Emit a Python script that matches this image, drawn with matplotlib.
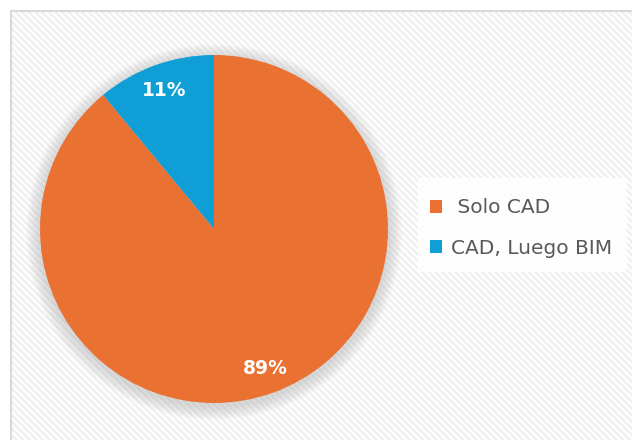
import matplotlib.pyplot as plt
from matplotlib.patches import Rectangle, Circle

labels = [' Solo CAD', 'CAD, Luego BIM']
values = [89, 11]
colors = ['#E97132', '#0F9ED5']
pct_text = ['89%', '11%']

plt.rcParams['hatch.linewidth'] = 1.6
fig = plt.figure(figsize=(6.32, 4.4), dpi=100)
ax = fig.add_axes([0, 0, 1, 1])

# background with fine diagonal stripes
ax.add_patch(Rectangle((0, 0), 632, 440, facecolor='white', edgecolor='none', zorder=0))
ax.add_patch(Rectangle((10.5, -5), 630, 434.5, facecolor='#f0f0f0', edgecolor='white',
                       hatch='\\\\\\\\\\', linewidth=0, zorder=0.5))
ax.add_patch(Rectangle((10.5, -5), 630, 434.5, facecolor='none', edgecolor='#d9d9d9',
                       linewidth=1.5, zorder=0.6))

cx, cy, r = 214, 211, 174

# soft shadow
for k in range(14, 0, -1):
    ax.add_patch(Circle((cx, cy - 3), r + k, facecolor='#808080', edgecolor='none',
                        alpha=0.02, zorder=1))

wedges, _ = ax.pie(values, colors=colors, startangle=90, counterclock=False,
                   center=(cx, cy), radius=r, wedgeprops=dict(linewidth=0))
for w in wedges:
    w.set_zorder(2)

# percentage labels (offsets from centre)
label_pos = [(51, -139), (-50, 139)]
for t, (dx, dy) in zip(pct_text, label_pos):
    ax.text(cx + dx, cy + dy, t, color='white', fontsize=13.5, fontweight='bold',
            ha='center', va='center', zorder=3)

# legend box
ax.add_patch(Rectangle((418, 168), 209, 94, facecolor='white', edgecolor='none',
                       alpha=0.85, zorder=1))
leg = ax.legend(wedges, labels, loc='center left', bbox_to_anchor=(412 / 632, 212 / 440),
                frameon=False, fontsize=14.5, labelcolor='#595959', handlelength=0.6,
                handleheight=0.6, labelspacing=1.05, handletextpad=0.45)

ax.set_xlim(0, 632)
ax.set_ylim(0, 440)
ax.axis('off')
fig.savefig('out.png', dpi=100)
